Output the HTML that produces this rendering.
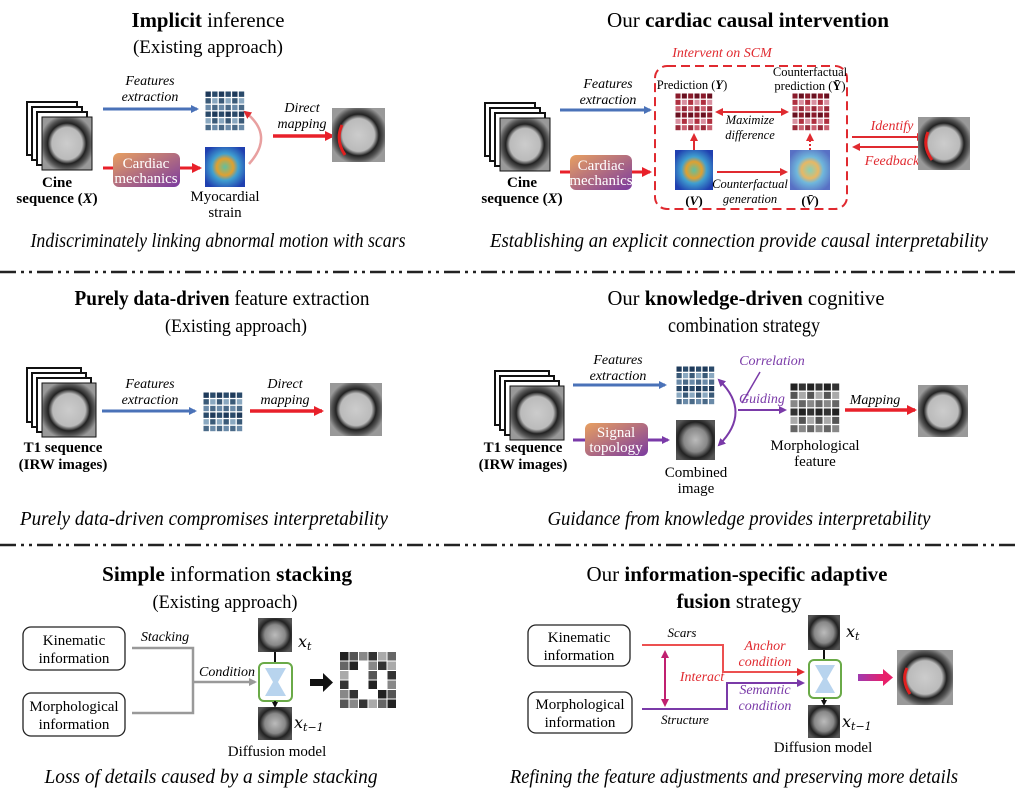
<!DOCTYPE html>
<html><head><meta charset="utf-8"><style>
body{margin:0;background:#fff}
svg{display:block;font-family:"Liberation Serif",serif}
.t{font-size:21px;text-anchor:middle}
.c{font-size:20px;font-style:italic;text-anchor:middle}
.s{font-size:15px;text-anchor:middle}
.i{font-size:14px;font-style:italic;text-anchor:middle}
.b{font-weight:bold}
</style></head><body>
<svg id="sv" width="1018" height="800" viewBox="0 0 1018 800" xmlns="http://www.w3.org/2000/svg">
<defs>
<marker id="ab" markerWidth="8" markerHeight="8" refX="6" refY="4" orient="auto" markerUnits="userSpaceOnUse"><path d="M0,0L8,4L0,8z" fill="#4a72b8"/></marker>
<marker id="ar" markerWidth="10" markerHeight="10" refX="8" refY="5" orient="auto" markerUnits="userSpaceOnUse"><path d="M0,0L10,5L0,10z" fill="#e8202a"/></marker>
<marker id="ars" markerWidth="8" markerHeight="8" refX="6" refY="4" orient="auto-start-reverse" markerUnits="userSpaceOnUse"><path d="M0,0L8,4L0,8z" fill="#e02a30"/></marker>
<marker id="ap" markerWidth="8" markerHeight="8" refX="6" refY="4" orient="auto-start-reverse" markerUnits="userSpaceOnUse"><path d="M0,0L8,4L0,8z" fill="#7a3aa8"/></marker>
<marker id="ag" markerWidth="8" markerHeight="8" refX="6" refY="4" orient="auto" markerUnits="userSpaceOnUse"><path d="M0,0L8,4L0,8z" fill="#999"/></marker>
<marker id="ak" markerWidth="6" markerHeight="6" refX="4" refY="3" orient="auto" markerUnits="userSpaceOnUse"><path d="M0,0L6,3L0,6z" fill="#111"/></marker>
<marker id="am" markerWidth="8" markerHeight="8" refX="6" refY="4" orient="auto-start-reverse" markerUnits="userSpaceOnUse"><path d="M0,0L8,4L0,8z" fill="#c02070"/></marker>
<linearGradient id="go" x1="0" y1="0" x2="1" y2="1"><stop offset="0" stop-color="#e8a060"/><stop offset="1" stop-color="#7a3aa0"/></linearGradient>
<linearGradient id="pk" x1="0" x2="1"><stop offset="0" stop-color="#a03ab0"/><stop offset="1" stop-color="#e8206a"/></linearGradient>
<radialGradient id="strain" cx="0.5" cy="0.5" r="0.6"><stop offset="0" stop-color="#60c0a0"/><stop offset="0.35" stop-color="#e0a030"/><stop offset="0.55" stop-color="#40a0d0"/><stop offset="1" stop-color="#2040b0"/></radialGradient>
<radialGradient id="heart" cx="0.5" cy="0.5" r="0.55"><stop offset="0" stop-color="#ccc"/><stop offset="0.55" stop-color="#bbb"/><stop offset="0.7" stop-color="#222"/><stop offset="0.85" stop-color="#555"/><stop offset="1" stop-color="#999"/></radialGradient>
<radialGradient id="noise" cx="0.5" cy="0.5" r="0.6"><stop offset="0" stop-color="#bbb"/><stop offset="0.5" stop-color="#888"/><stop offset="0.75" stop-color="#222"/><stop offset="1" stop-color="#555"/></radialGradient>
</defs>

<!-- Titles -->
<text class="t" x="208" y="27" textLength="153" lengthAdjust="spacingAndGlyphs"><tspan class="b">Implicit</tspan> inference</text>
<text class="t" x="208" y="53" style="font-size:19px" textLength="150" lengthAdjust="spacingAndGlyphs">(Existing approach)</text>
<text class="t" x="748" y="27" textLength="282" lengthAdjust="spacingAndGlyphs">Our <tspan class="b">cardiac causal intervention</tspan></text>

<!-- S1 left -->
<g id="stack1"></g>
<text class="s b" x="57" y="187">Cine</text>
<text class="s b" x="57" y="203">sequence (<tspan font-style="italic">X</tspan>)</text>
<line x1="103" y1="109" x2="197" y2="109" stroke="#4a72b8" stroke-width="3" marker-end="url(#ab)"/>
<text class="i" x="150" y="85">Features</text><text class="i" x="150" y="101">extraction</text>
<line x1="103" y1="168" x2="200" y2="168" stroke="#e8202a" stroke-width="3" marker-end="url(#ar)"/>
<rect x="113" y="153" width="67" height="34" rx="6" fill="url(#go)"/>
<text class="s" x="146" y="168" fill="#fff">Cardiac</text><text class="s" x="146" y="183" fill="#fff">mechanics</text>
<rect x="205" y="147" width="40" height="40" fill="url(#strain)"/>
<text class="s" x="225" y="201">Myocardial</text><text class="s" x="225" y="217">strain</text>
<path d="M249,164 Q275,135 245,112" fill="none" stroke="#e8a0a0" stroke-width="2.5" marker-end="url(#ars)"/>
<text class="i" x="302" y="112">Direct</text><text class="i" x="302" y="128">mapping</text>
<line x1="273" y1="136" x2="333" y2="136" stroke="#e8202a" stroke-width="3.5" marker-end="url(#ar)"/>
<rect x="332" y="108" width="53" height="54" fill="url(#heart)"/>
<path d="M342,125 Q335,140 345,155" stroke="#e02020" stroke-width="3" fill="none"/>
<text class="c" x="218" y="247" textLength="375" lengthAdjust="spacingAndGlyphs">Indiscriminately linking abnormal motion with scars</text>

<!-- S1 right -->
<g id="stack2"></g>
<text class="s b" x="522" y="187">Cine</text>
<text class="s b" x="522" y="203">sequence (<tspan font-style="italic">X</tspan>)</text>
<line x1="560" y1="110" x2="650" y2="110" stroke="#4a72b8" stroke-width="3" marker-end="url(#ab)"/>
<text class="i" x="608" y="88">Features</text><text class="i" x="608" y="104">extraction</text>
<line x1="560" y1="172" x2="650" y2="172" stroke="#e8202a" stroke-width="3" marker-end="url(#ar)"/>
<rect x="570" y="155" width="62" height="35" rx="6" fill="url(#go)"/>
<text class="s" x="601" y="170" fill="#fff">Cardiac</text><text class="s" x="601" y="185" fill="#fff">mechanics</text>
<rect x="655" y="66" width="192" height="143" rx="12" fill="none" stroke="#e02a30" stroke-width="2" stroke-dasharray="9,5"/>
<text x="722" y="57" font-size="14" font-style="italic" fill="#e02a30" text-anchor="middle">Intervent on SCM</text>
<text x="692" y="89" font-size="12.5" text-anchor="middle">Prediction (<tspan font-weight="bold" font-style="italic">Y</tspan>)</text>
<text x="810" y="76" font-size="12.5" text-anchor="middle">Counterfactual</text>
<text x="810" y="90" font-size="12.5" text-anchor="middle">prediction (<tspan font-weight="bold">Ȳ</tspan>)</text>
<line x1="717" y1="112" x2="787" y2="112" stroke="#e02a30" stroke-width="2" marker-start="url(#ars)" marker-end="url(#ars)"/>
<text class="i" x="750" y="124" style="font-size:12.5px">Maximize</text><text class="i" x="750" y="139" style="font-size:12.5px">difference</text>
<rect x="675" y="150" width="38" height="40" fill="url(#strain)"/>
<rect x="790" y="150" width="40" height="40" fill="url(#strain)" opacity="0.75"/>
<line x1="694" y1="150" x2="694" y2="135" stroke="#e02a30" stroke-width="2" marker-end="url(#ars)"/>
<line x1="810" y1="150" x2="810" y2="135" stroke="#e02a30" stroke-width="2" stroke-dasharray="2,2" marker-end="url(#ars)"/>
<line x1="717" y1="172" x2="786" y2="172" stroke="#e02a30" stroke-width="2" marker-end="url(#ars)"/>
<text class="i" x="750" y="188" style="font-size:12.5px">Counterfactual</text><text class="i" x="750" y="203" style="font-size:12.5px">generation</text>
<text x="694" y="205" font-size="13" font-weight="bold" text-anchor="middle">(<tspan font-style="italic">V</tspan>)</text>
<text x="810" y="205" font-size="13" font-weight="bold" text-anchor="middle">(<tspan font-style="italic">V̄</tspan>)</text>
<line x1="852" y1="137" x2="923" y2="137" stroke="#e02a30" stroke-width="2" marker-end="url(#ars)"/>
<line x1="918" y1="147" x2="854" y2="147" stroke="#e02a30" stroke-width="2" marker-end="url(#ars)"/>
<text x="892" y="130" font-size="14" font-style="italic" fill="#e02a30" text-anchor="middle">Identify</text>
<text x="892" y="165" font-size="14" font-style="italic" fill="#e02a30" text-anchor="middle">Feedback</text>
<rect x="918" y="117" width="52" height="53" fill="url(#heart)"/>
<path d="M928,132 Q922,146 932,160" stroke="#e02020" stroke-width="3" fill="none"/>
<text class="c" x="739" y="247" textLength="498" lengthAdjust="spacingAndGlyphs">Establishing an explicit connection provide causal interpretability</text>

<line x1="0" y1="272" x2="1018" y2="272" stroke="#222" stroke-width="2.5" stroke-dasharray="16,5,3,5,3,5"/>

<!-- S2 left -->
<text class="t" x="222" y="305" textLength="295" lengthAdjust="spacingAndGlyphs"><tspan class="b">Purely data-driven</tspan> feature extraction</text>
<text class="t" x="236" y="332" style="font-size:19px" textLength="142" lengthAdjust="spacingAndGlyphs">(Existing approach)</text>
<g id="stack3"></g>
<text class="s b" x="63" y="452">T1 sequence</text>
<text class="s b" x="63" y="469">(IRW images)</text>
<line x1="102" y1="411" x2="195" y2="411" stroke="#4a72b8" stroke-width="3" marker-end="url(#ab)"/>
<text class="i" x="150" y="388">Features</text><text class="i" x="150" y="404">extraction</text>
<text class="i" x="285" y="388">Direct</text><text class="i" x="285" y="404">mapping</text>
<line x1="250" y1="411" x2="322" y2="411" stroke="#e8202a" stroke-width="3.5" marker-end="url(#ar)"/>
<rect x="330" y="383" width="52" height="53" fill="url(#heart)"/>
<text class="c" x="204" y="525" textLength="368" lengthAdjust="spacingAndGlyphs">Purely data-driven compromises interpretability</text>

<!-- S2 right -->
<text class="t" x="746" y="305" textLength="277" lengthAdjust="spacingAndGlyphs">Our <tspan class="b">knowledge-driven</tspan> cognitive</text>
<text class="t" x="744" y="332" textLength="152" lengthAdjust="spacingAndGlyphs">combination strategy</text>
<g id="stack4"></g>
<text class="s b" x="523" y="452">T1 sequence</text>
<text class="s b" x="523" y="469">(IRW images)</text>
<line x1="573" y1="385" x2="665" y2="385" stroke="#4a72b8" stroke-width="3" marker-end="url(#ab)"/>
<text class="i" x="618" y="364">Features</text><text class="i" x="618" y="380">extraction</text>
<line x1="573" y1="440" x2="668" y2="440" stroke="#7a3aa8" stroke-width="3" marker-end="url(#ap)"/>
<rect x="585" y="423" width="63" height="33" rx="6" fill="url(#go)"/>
<text class="s" x="616" y="437" fill="#fff">Signal</text><text class="s" x="616" y="452" fill="#fff">topology</text>
<rect x="676" y="420" width="39" height="40" fill="url(#noise)"/>
<text class="s" x="696" y="477">Combined</text><text class="s" x="696" y="493">image</text>
<path d="M719,380 Q752,412 719,445" fill="none" stroke="#7a3aa8" stroke-width="2" marker-start="url(#ap)" marker-end="url(#ap)"/>
<line x1="742" y1="403" x2="760" y2="372" stroke="#7a3aa8" stroke-width="1.5"/>
<text x="772" y="365" font-size="14" font-style="italic" fill="#7a3aa8" text-anchor="middle">Correlation</text>
<text x="762" y="403" font-size="14" font-style="italic" fill="#7a3aa8" text-anchor="middle">Guiding</text>
<line x1="738" y1="410" x2="785" y2="410" stroke="#7a3aa8" stroke-width="2" marker-end="url(#ap)"/>
<text class="s" x="815" y="450">Morphological</text><text class="s" x="815" y="466">feature</text>
<text class="i" x="875" y="404">Mapping</text>
<line x1="845" y1="410" x2="915" y2="410" stroke="#e8202a" stroke-width="3.5" marker-end="url(#ar)"/>
<rect x="918" y="385" width="50" height="52" fill="url(#heart)"/>
<text class="c" x="739" y="525" textLength="383" lengthAdjust="spacingAndGlyphs">Guidance from knowledge provides interpretability</text>

<line x1="0" y1="545" x2="1018" y2="545" stroke="#222" stroke-width="2.5" stroke-dasharray="16,5,3,5,3,5"/>

<!-- S3 left -->
<text class="t" x="227" y="581" textLength="250" lengthAdjust="spacingAndGlyphs"><tspan class="b">Simple</tspan> information <tspan class="b">stacking</tspan></text>
<text class="t" x="225" y="608" style="font-size:19px" textLength="145" lengthAdjust="spacingAndGlyphs">(Existing approach)</text>
<rect x="23" y="627" width="102" height="43" rx="8" fill="#fff" stroke="#222" stroke-width="1.3"/>
<text class="s" x="74" y="645">Kinematic</text><text class="s" x="74" y="663">information</text>
<rect x="23" y="693" width="102" height="43" rx="8" fill="#fff" stroke="#222" stroke-width="1.3"/>
<text class="s" x="74" y="711">Morphological</text><text class="s" x="74" y="729">information</text>
<path d="M132,648 H193 V713 H132" fill="none" stroke="#999" stroke-width="2.5"/>
<line x1="193" y1="682" x2="255" y2="682" stroke="#999" stroke-width="2.5" marker-end="url(#ag)"/>
<text class="i" x="165" y="641">Stacking</text><text class="i" x="227" y="676">Condition</text>
<rect x="258" y="618" width="34" height="34" fill="url(#noise)"/>
<line x1="275" y1="652" x2="275" y2="663" stroke="#111" stroke-width="2"/>
<rect x="259" y="663" width="33" height="38" rx="5" fill="#fff" stroke="#6aaa48" stroke-width="2"/>
<path d="M265,668 H286 L278,682 L286,696 H265 L273,682z" fill="#b8d4ee"/>
<line x1="275" y1="701" x2="275" y2="706" stroke="#111" stroke-width="2" marker-end="url(#ak)"/>
<rect x="258" y="707" width="34" height="33" fill="url(#noise)"/>
<text x="298" y="647" font-size="16" font-style="italic" font-family="DejaVu Serif">x<tspan font-size="11" dy="3">t</tspan></text>
<text x="294" y="728" font-size="16" font-style="italic" font-family="DejaVu Serif">x<tspan font-size="11" dy="3">t−1</tspan></text>
<text class="s" x="277" y="756">Diffusion model</text>
<rect x="310" y="679" width="14" height="7" fill="#111"/>
<path d="M323,673 L333,682.5 L323,692z" fill="#111"/>
<g id="mosaic"></g>
<text class="c" x="211" y="783" textLength="333" lengthAdjust="spacingAndGlyphs">Loss of details caused by a simple stacking</text>

<!-- S3 right -->
<text class="t" x="737" y="581" textLength="301" lengthAdjust="spacingAndGlyphs">Our <tspan class="b">information-specific adaptive</tspan></text>
<text class="t" x="739" y="608" textLength="125" lengthAdjust="spacingAndGlyphs"><tspan class="b">fusion</tspan> strategy</text>
<rect x="528" y="625" width="102" height="41" rx="8" fill="#fff" stroke="#222" stroke-width="1.3"/>
<text class="s" x="579" y="642">Kinematic</text><text class="s" x="579" y="660">information</text>
<rect x="528" y="692" width="104" height="41" rx="8" fill="#fff" stroke="#222" stroke-width="1.3"/>
<text class="s" x="580" y="709">Morphological</text><text class="s" x="580" y="727">information</text>
<path d="M642,645 H723 V672 H803" fill="none" stroke="#ec5050" stroke-width="2" marker-end="url(#ars)"/>
<path d="M642,709 H727 V683 H803" fill="none" stroke="#7a3aa8" stroke-width="2" marker-end="url(#ap)"/>
<line x1="665" y1="652" x2="665" y2="705" stroke="#c02070" stroke-width="2" marker-start="url(#am)" marker-end="url(#am)"/>
<text x="682" y="637" font-size="13" font-style="italic" text-anchor="middle">Scars</text>
<text x="685" y="724" font-size="13" font-style="italic" text-anchor="middle">Structure</text>
<text x="702" y="681" font-size="14" font-style="italic" fill="#e02a30" text-anchor="middle">Interact</text>
<text x="765" y="650" font-size="14" font-style="italic" fill="#e02a30" text-anchor="middle">Anchor</text>
<text x="765" y="666" font-size="14" font-style="italic" fill="#e02a30" text-anchor="middle">condition</text>
<text x="765" y="694" font-size="14" font-style="italic" fill="#7a3aa8" text-anchor="middle">Semantic</text>
<text x="765" y="710" font-size="14" font-style="italic" fill="#7a3aa8" text-anchor="middle">condition</text>
<rect x="808" y="615" width="32" height="35" fill="url(#noise)"/>
<line x1="824" y1="650" x2="824" y2="660" stroke="#111" stroke-width="2"/>
<rect x="809" y="660" width="32" height="38" rx="5" fill="#fff" stroke="#6aaa48" stroke-width="2"/>
<path d="M815,665 H835 L827,679 L835,693 H815 L823,679z" fill="#b8d4ee"/>
<line x1="824" y1="698" x2="824" y2="704" stroke="#111" stroke-width="2" marker-end="url(#ak)"/>
<rect x="808" y="705" width="32" height="33" fill="url(#noise)"/>
<text x="846" y="637" font-size="16" font-style="italic" font-family="DejaVu Serif">x<tspan font-size="11" dy="3">t</tspan></text>
<text x="842" y="727" font-size="16" font-style="italic" font-family="DejaVu Serif">x<tspan font-size="11" dy="3">t−1</tspan></text>
<text class="s" x="823" y="752">Diffusion model</text>
<rect x="858" y="674" width="26" height="7" fill="url(#pk)"/>
<path d="M883,669 L893,677.5 L883,686z" fill="#e8206a"/>
<rect x="897" y="650" width="56" height="55" fill="url(#heart)"/>
<path d="M907,668 Q901,680 910,694" stroke="#e02020" stroke-width="3" fill="none"/>
<text class="c" x="734" y="783" textLength="448" lengthAdjust="spacingAndGlyphs">Refining the feature adjustments and preserving more details</text>

<g id="grids"></g>
</svg>
<script>
var NS="http://www.w3.org/2000/svg",sv=document.getElementById("sv");
function el(p,t,a){var e=document.createElementNS(NS,t);for(var k in a)e.setAttribute(k,a[k]);p.appendChild(e);return e;}
function stack(id,x,y,w,h){var g=document.getElementById(id);
 for(var i=3;i>=0;i--){var xx=x-i*5,yy=y-i*5;
  el(g,"rect",{x:xx,y:yy,width:w,height:h,fill:i?"#fff":"url(#heart)",stroke:"#111","stroke-width":i?2:1});}
}
stack("stack1",42,117,50,53);stack("stack2",500,118,50,53);stack("stack3",42,383,54,54);stack("stack4",510,386,54,54);
function grid(x,y,w,n,cols){var g=document.getElementById("grids"),c=w/n;
 for(var r=0;r<n;r++)for(var q=0;q<n;q++){el(g,"rect",{x:x+q*c+0.5,y:y+r*c+0.5,width:c-1.3,height:c-1.3,fill:cols[(r*7+q*3)%cols.length]});}}
var blue=["#1e3a5a","#3a5a78","#6a8aa8","#2a4a6a","#8aa8c0","#4a6a88"];
var red=["#8a1a2a","#b03040","#c86070","#6a1020","#d890a0","#9a2a3a"];
var gray=["#222","#555","#888","#333","#aaa","#666"];
grid(205,91,40,6,blue);grid(675,93,38,6,red);grid(792,93,38,6,red);
grid(203,392,40,6,blue);grid(676,366,39,6,blue);grid(790,383,50,6,gray);
(function(){var g=document.getElementById("mosaic"),c=57/6,pat="111111 110111 100101 100101 110011 111111";
 var rows=pat.split(" ");for(var r=0;r<6;r++)for(var q=0;q<6;q++)if(rows[r][q]=="1")el(g,"rect",{x:340+q*c,y:652+r*c,width:c-1,height:c-1,fill:gray[(r*5+q)%6]});})();
</script>
</body></html>
